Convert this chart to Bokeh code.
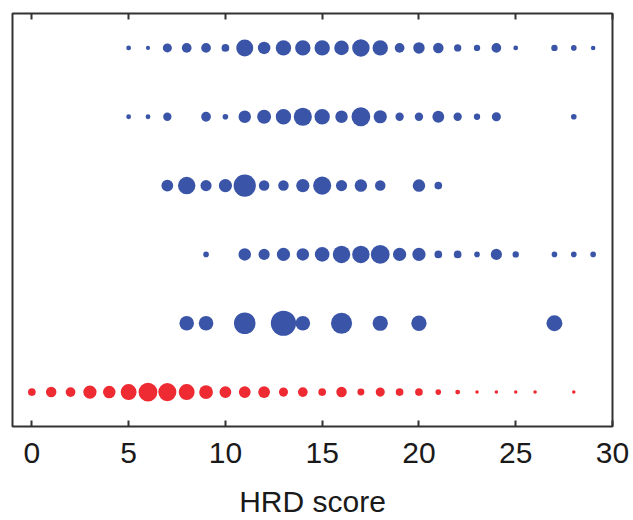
from bokeh.plotting import figure
from bokeh.models import ColumnDataSource, Range1d, LinearAxis, FixedTicker
from bokeh.embed import file_html
from bokeh.resources import INLINE
import numpy as np

# Rows from top (row 6) to bottom (row 1, red group)
row6_scores = [5, 6, 7, 8, 9, 10, 11, 12, 13, 14, 15, 16, 17, 18, 19, 20, 21, 22, 23, 24, 25, 27, 28, 29]
row6_freq = [1.1, 0.8, 3.9, 4.5, 4.5, 2.8, 13.7, 7.4, 11.2, 11.2, 11.2, 10.1, 14.4, 11.2, 4.5, 6.2, 5.2, 2.5, 1.9, 4.5, 1.1, 1.9, 1.5, 1.0]

row5_scores = [5, 6, 7, 9, 10, 11, 12, 13, 14, 15, 16, 17, 18, 19, 20, 21, 22, 23, 24, 28]
row5_freq = [1.1, 1.1, 3.3, 4.5, 1.5, 7.4, 9.2, 11.2, 15.5, 11.2, 7.4, 16.7, 8.3, 3.3, 3.3, 6.6, 3.3, 1.9, 3.9, 1.5]

row4_scores = [7, 8, 9, 10, 11, 12, 13, 14, 15, 16, 17, 18, 20, 21]
row4_freq = [6.6, 14.4, 5.9, 8.3, 23.4, 5.2, 5.2, 8.3, 15.5, 5.9, 7.4, 5.2, 7.4, 2.8]

row3_scores = [9, 11, 12, 13, 14, 15, 16, 17, 18, 19, 20, 21, 22, 23, 24, 25, 27, 28, 29]
row3_freq = [1.5, 7.4, 5.9, 8.3, 7.4, 10.1, 14.4, 14.4, 16.7, 8.3, 8.3, 2.8, 2.8, 1.5, 5.9, 1.9, 1.5, 1.5, 1.5]

row2_scores = [8, 9, 11, 13, 14, 16, 18, 20, 27]
row2_freq = [10, 10, 22, 30, 10, 21, 11, 11, 12]

row1_scores = [0, 1, 2, 3, 4, 5, 6, 7, 8, 9, 10, 11, 12, 13, 14, 15, 16, 17, 18, 19, 20, 21, 22, 23, 24, 25, 26, 28]
row1_freq = [2.8, 5.2, 4.5, 8.3, 7.4, 12, 16.7, 15.5, 12, 9, 6.6, 6.6, 6.6, 3.9, 4.5, 2.8, 5.2, 2.3, 3.9, 2.8, 2.8, 1.5, 1.1, 0.6, 0.6, 0.6, 0.6, 0.6]

x_ticks = [0, 5, 10, 15, 20, 25, 30]

BLUE = "#3a55a8"
RED = "#ee2a32"
SCALE = 4.6

p = figure(output_backend="svg", toolbar_location=None,
           x_range=Range1d(-1, 30), y_range=Range1d(0.5, 6.5),
           min_border_left=12, min_border_right=21, min_border_top=13,
           width=633, height=520)

rows = [(6, row6_scores, row6_freq, BLUE), (5, row5_scores, row5_freq, BLUE),
        (4, row4_scores, row4_freq, BLUE), (3, row3_scores, row3_freq, BLUE),
        (2, row2_scores, row2_freq, BLUE), (1, row1_scores, row1_freq, RED)]
for yv, xs, fs, col in rows:
    src = ColumnDataSource(dict(x=xs, y=[yv] * len(xs),
                                s=[SCALE * np.sqrt(f) for f in fs]))
    p.scatter("x", "y", size="s", source=src, fill_color=col, line_color=None)

p.grid.visible = False
p.background_fill_color = "white"
p.border_fill_color = "white"
p.outline_line_color = "#333333"
p.outline_line_width = 2
p.yaxis.visible = False

ax = p.xaxis[0]
ax.ticker = FixedTicker(ticks=x_ticks)
ax.axis_line_color = None
ax.major_tick_in = 6
ax.major_tick_out = 0
ax.major_tick_line_width = 2
ax.major_tick_line_color = "#333333"
ax.minor_tick_line_color = None
ax.major_label_text_font = "Liberation Sans"
ax.major_label_text_font_size = "30px"
ax.major_label_text_color = "#1a1a1a"
ax.major_label_text_line_height = 0.7
ax.major_label_standoff = 16
ax.axis_label = "HRD score"
ax.axis_label_text_font = "Liberation Sans"
ax.axis_label_text_font_size = "30px"
ax.axis_label_text_font_style = "normal"
ax.axis_label_text_color = "#1a1a1a"
ax.axis_label_text_line_height = 0.7
ax.axis_label_standoff = 19

top = LinearAxis(ticker=FixedTicker(ticks=x_ticks))
top.axis_line_color = None
top.major_tick_in = 6
top.major_tick_out = 0
top.major_tick_line_width = 2
top.major_tick_line_color = "#333333"
top.minor_tick_line_color = None
top.major_label_overrides = {t: "" for t in x_ticks}
top.major_label_text_font_size = "1px"
top.major_label_standoff = 0
p.add_layout(top, "above")

open("out.html", "w").write(file_html(p, INLINE))
